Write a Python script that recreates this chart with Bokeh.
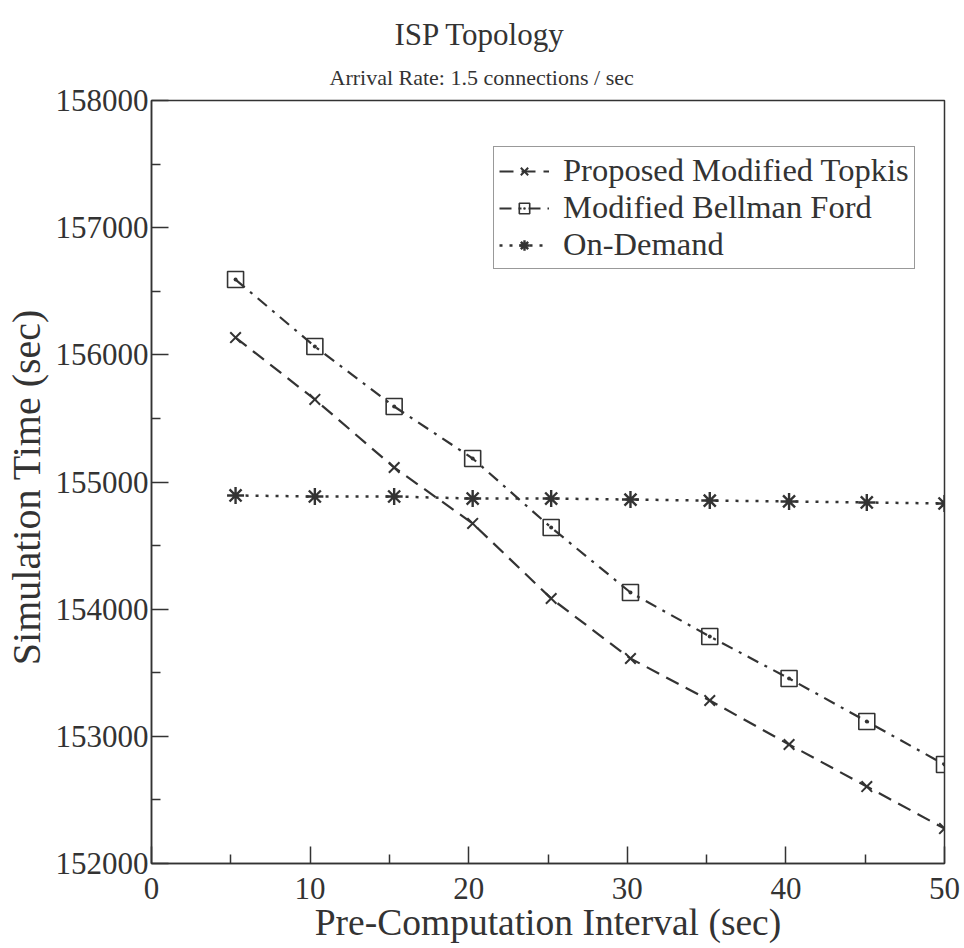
from bokeh.plotting import figure
from bokeh.models import (FixedTicker, Legend, LegendItem, Title, Range1d,
                          BasicTickFormatter)
from bokeh.embed import file_html
from bokeh.resources import INLINE

# ---- data ----
x_vals = [5.3, 10.3, 15.3, 20.25, 25.2, 30.2, 35.2, 40.2, 45.1, 50.0]
topkis = [156136, 155649, 155114, 154674, 154084, 153612, 153282, 152936, 152605, 152275]
bellman = [156592, 156065, 155594, 155185, 154642, 154131, 153785, 153455, 153117, 152778]
ondemand = [154894, 154886, 154886, 154870, 154870, 154862, 154854, 154847, 154839, 154831]

x_ticks = [0, 10, 20, 30, 40, 50]
x_minor = [5, 15, 25, 35, 45]
y_ticks = [152000, 153000, 154000, 155000, 156000, 157000, 158000]
y_minor = [152500, 153500, 154500, 155500, 156500, 157500]

names = ["Proposed Modified Topkis", "Modified Bellman Ford", "On-Demand"]
title_text = "ISP Topology"
subtitle_text = "Arrival Rate: 1.5 connections / sec"
x_label = "Pre-Computation Interval (sec)"
y_label = "Simulation Time  (sec)"

FONT = "Liberation Serif"
INK = "#333333"

p = figure(width=964, height=948, output_backend="svg", toolbar_location=None,
           x_range=Range1d(0, 50), y_range=Range1d(152000, 158000),
           min_border_left=149, min_border_right=20, min_border_top=100,
           min_border_bottom=85)

p.xgrid.visible = False
p.ygrid.visible = False
p.outline_line_color = INK
p.outline_line_width = 1.5
p.background_fill_color = "white"
p.border_fill_color = "white"

sub = Title(text=subtitle_text, align="left", offset=178, text_font=FONT,
            text_font_size="22px", text_font_style="normal", text_color=INK,
            standoff=22)
p.add_layout(sub, "above")
main = Title(text=title_text, align="left", offset=243, text_font=FONT,
             text_font_size="31px", text_font_style="normal", text_color=INK,
             standoff=0)
p.add_layout(main, "above")

for ax in (p.xaxis[0], p.yaxis[0]):
    ax.axis_line_color = INK
    ax.axis_line_width = 1.5
    ax.major_tick_line_color = INK
    ax.minor_tick_line_color = INK
    ax.major_tick_line_width = 1.5
    ax.minor_tick_line_width = 1.5
    ax.major_tick_in = 17
    ax.major_tick_out = 0
    ax.minor_tick_in = 9
    ax.minor_tick_out = 0
    ax.major_label_text_font = FONT
    ax.major_label_text_font_size = "31px"
    ax.major_label_text_color = INK
    ax.axis_label_text_font = FONT
    ax.axis_label_text_font_style = "normal"
    ax.axis_label_text_color = INK

p.xaxis.axis_label_text_font_size = "37.5px"
p.yaxis.axis_label_text_font_size = "40px"
p.xaxis.ticker = FixedTicker(ticks=x_ticks, minor_ticks=x_minor)
p.yaxis.ticker = FixedTicker(ticks=y_ticks, minor_ticks=y_minor)
p.yaxis.formatter = BasicTickFormatter(use_scientific=False)
p.xaxis.axis_label = x_label
p.yaxis.axis_label = y_label
p.xaxis.major_label_standoff = 14
p.yaxis.major_label_standoff = 3
p.xaxis.axis_label_standoff = 0
p.yaxis.axis_label_standoff = 4

l1 = p.line(x_vals, topkis, line_color=INK, line_width=2.2, line_dash="14 8")
m1 = p.scatter(x_vals, topkis, marker="x", size=15, line_color=INK, line_width=2)
l2 = p.line(x_vals, bellman, line_color=INK, line_width=2.2, line_dash="12 7 3 7")
m2 = p.scatter(x_vals, bellman, marker="square_dot", size=16, line_color=INK,
               fill_color=None, line_width=1.6)
l3 = p.line(x_vals, ondemand, line_color=INK, line_width=2.5, line_dash="3 7")
m3 = p.scatter(x_vals, ondemand, marker="asterisk", size=17, line_color=INK,
               line_width=2.4)

legend = Legend(items=[LegendItem(label=names[0], renderers=[l1, m1]),
                       LegendItem(label=names[1], renderers=[l2, m2]),
                       LegendItem(label=names[2], renderers=[l3, m3])],
                location=(342, 594), orientation="vertical",
                label_text_font=FONT, label_text_font_size="32.5px",
                label_text_line_height=1.0,
                label_text_color=INK, glyph_width=50, glyph_height=26,
                label_height=26, label_standoff=14, padding=5, spacing=0,
                margin=0, border_line_color=INK, border_line_width=1.5,
                background_fill_alpha=1.0)
p.add_layout(legend, "center")

open("out.html", "w").write(file_html(p, INLINE))
